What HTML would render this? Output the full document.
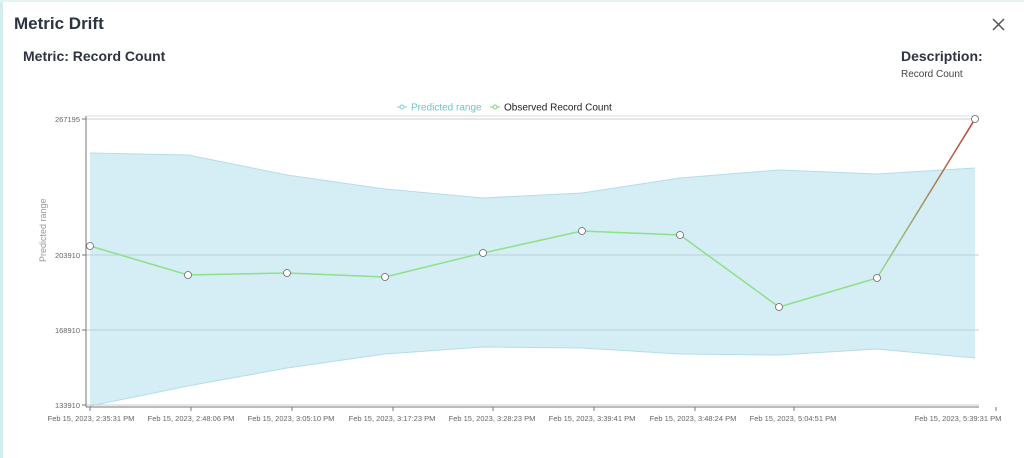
<!DOCTYPE html>
<html><head><meta charset="utf-8"><style>
body{margin:0;width:1024px;height:458px;background:#fff;overflow:hidden;font-family:"Liberation Sans",sans-serif;}
.edge{position:absolute;left:0;top:0;width:3px;height:458px;background:#d4eef0;}
.edgeT{position:absolute;left:0;top:0;width:1024px;height:2px;background:#e2f3f4;}
.t{position:absolute;color:#2d3340;}
</style></head><body>
<div class="edge"></div><div class="edgeT"></div>
<div class="t" style="left:14px;top:14px;font-size:17px;font-weight:bold;">Metric Drift</div>
<div class="t" style="left:23px;top:48px;font-size:14px;font-weight:bold;">Metric: Record Count</div>
<div class="t" style="left:901px;top:48px;font-size:14px;font-weight:bold;">Description:</div>
<div class="t" style="left:901px;top:69px;font-size:10px;color:#444;">Record Count</div>
<svg style="position:absolute;left:0;top:0" width="1024" height="458">
<line x1="993" y1="19" x2="1004" y2="30" stroke="#555" stroke-width="1.5"/>
<line x1="1004" y1="19" x2="993" y2="30" stroke="#555" stroke-width="1.5"/>
<defs><linearGradient id="g" x1="877" y1="278" x2="975" y2="119" gradientUnits="userSpaceOnUse"><stop offset="0" stop-color="#8ee08a"/><stop offset="1" stop-color="#c0392b"/></linearGradient></defs>
<!-- legend -->
<g font-size="10">
<line x1="397" y1="107" x2="407" y2="107" stroke="#7fcfd6"/><circle cx="402" cy="107" r="2" fill="#fff" stroke="#7fcfd6"/>
<text x="411" y="110.5" fill="#6cc4cc">Predicted range</text>
<line x1="490" y1="107" x2="500" y2="107" stroke="#7bd67b"/><circle cx="495" cy="107" r="2" fill="#fff" stroke="#7bd67b"/>
<text x="504" y="110.5" fill="#222">Observed Record Count</text>
</g>
<line x1="86" y1="116" x2="979" y2="116" stroke="#ddd"/>
<polygon points="90,153 188,155 287,175 385,189 483,198 582,193 680,178 779,170 877,174 975,168 975,358 877,349 779,355 680,354 582,348 483,347 385,354 287,368 188,386 90,406" fill="#d5eef5"/>
<polyline points="90,153 188,155 287,175 385,189 483,198 582,193 680,178 779,170 877,174 975,168" fill="none" stroke="#b4dde8" stroke-width="1"/>
<polyline points="975,358 877,349 779,355 680,354 582,348 483,347 385,354 287,368 188,386 90,406" fill="none" stroke="#b4dde8" stroke-width="1"/>
<line x1="86" y1="255" x2="979" y2="255" stroke="#b9d3d8"/>
<line x1="86" y1="330" x2="979" y2="330" stroke="#b9d3d8"/>
<line x1="86" y1="119" x2="979" y2="119" stroke="#ccc"/>
<line x1="86" y1="405" x2="979" y2="405" stroke="#ccc"/>
<line x1="86" y1="116" x2="86" y2="407" stroke="#777"/>
<line x1="86" y1="407" x2="979" y2="407" stroke="#777"/>
<g stroke="#777">
<line x1="82" y1="119" x2="86" y2="119"/><line x1="82" y1="255" x2="86" y2="255"/><line x1="82" y1="330" x2="86" y2="330"/><line x1="82" y1="405" x2="86" y2="405"/>
<line x1="90" y1="407" x2="90" y2="411"/><line x1="191" y1="407" x2="191" y2="411"/><line x1="292" y1="407" x2="292" y2="411"/><line x1="393" y1="407" x2="393" y2="411"/><line x1="493" y1="407" x2="493" y2="411"/><line x1="594" y1="407" x2="594" y2="411"/><line x1="695" y1="407" x2="695" y2="411"/><line x1="794" y1="407" x2="794" y2="411"/><line x1="996" y1="407" x2="996" y2="411"/>
</g>
<g font-size="7.5" fill="#666" text-anchor="end">
<text x="80" y="122">267195</text><text x="80" y="258">203910</text><text x="80" y="333">168910</text><text x="80" y="408">133910</text>
</g>
<text transform="translate(46,262) rotate(-90)" font-size="9" fill="#999">Predicted range</text>
<g font-size="7.5" fill="#666" text-anchor="middle">
<text x="91" y="421">Feb 15, 2023, 2:35:31 PM</text>
<text x="191" y="421">Feb 15, 2023, 2:48:06 PM</text>
<text x="291" y="421">Feb 15, 2023, 3:05:10 PM</text>
<text x="392" y="421">Feb 15, 2023, 3:17:23 PM</text>
<text x="492" y="421">Feb 15, 2023, 3:28:23 PM</text>
<text x="592" y="421">Feb 15, 2023, 3:39:41 PM</text>
<text x="693" y="421">Feb 15, 2023, 3:48:24 PM</text>
<text x="793" y="421">Feb 15, 2023, 5:04:51 PM</text>
<text x="958" y="421">Feb 15, 2023, 5:39:31 PM</text>
</g>
<polyline points="90,246 188,275 287,273 385,277 483,253 582,231 680,235 779,307 877,278" fill="none" stroke="#8ee08a" stroke-width="1.5"/>
<line x1="877" y1="278" x2="975" y2="119" stroke="url(#g)" stroke-width="1.5"/>
<g fill="#fff" stroke="#666" stroke-width="0.8">
<circle cx="90" cy="246" r="3.5"/><circle cx="188" cy="275" r="3.5"/><circle cx="287" cy="273" r="3.5"/><circle cx="385" cy="277" r="3.5"/><circle cx="483" cy="253" r="3.5"/><circle cx="582" cy="231" r="3.5"/><circle cx="680" cy="235" r="3.5"/><circle cx="779" cy="307" r="3.5"/><circle cx="877" cy="278" r="3.5"/><circle cx="975" cy="119" r="3.5"/>
</g>
</svg>
</body></html>
